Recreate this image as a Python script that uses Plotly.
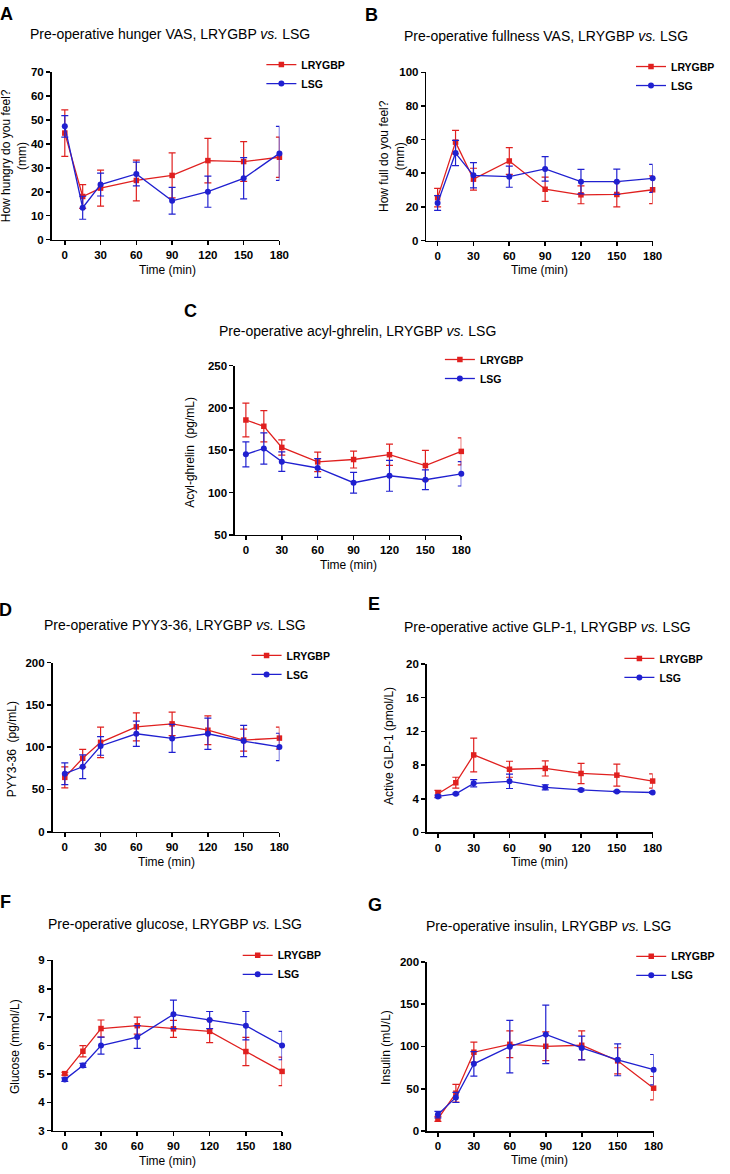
import plotly.graph_objects as go

W, H = 730, 1174
RED = "#e0201f"
BLUE = "#2020d0"
FONT = "Liberation Sans"

time = [0, 15, 30, 60, 90, 120, 150, 180]
x_ticks = [0, 30, 60, 90, 120, 150, 180]
groups = ["LRYGBP", "LSG"]

# A: hunger VAS (mm)
hunger_lrygbp = [44.5, 18.0, 21.5, 24.7, 26.8, 33.0, 32.6, 34.4]
hunger_lrygbp_err = [9.7, 5.0, 7.5, 8.5, 9.4, 9.3, 8.3, 8.4]
hunger_lsg = [47.3, 13.3, 23.0, 27.4, 16.2, 20.0, 25.6, 36.0]
hunger_lsg_err = [4.5, 4.8, 4.8, 5.0, 5.6, 6.5, 8.6, 11.3]

# B: fullness VAS (mm)
fullness_lrygbp = [25.5, 58.5, 36.5, 47.3, 30.5, 27.2, 27.4, 30.2]
fullness_lrygbp_err = [5.5, 7.0, 6.5, 8.0, 7.2, 5.3, 7.4, 8.2]
fullness_lsg = [22.3, 52.0, 38.8, 38.0, 42.6, 35.0, 35.0, 37.0]
fullness_lsg_err = [4.4, 7.5, 7.5, 6.3, 7.3, 7.3, 7.5, 8.3]

# C: acyl-ghrelin (pg/mL)
ghrelin_lrygbp = [185.7, 178.3, 153.3, 136.2, 139.0, 144.7, 131.9, 148.6]
ghrelin_lrygbp_err = [20.0, 18.5, 9.0, 11.5, 10.0, 12.5, 18.0, 16.0]
ghrelin_lsg = [145.1, 152.1, 136.5, 129.0, 111.6, 119.8, 115.1, 122.1]
ghrelin_lsg_err = [14.7, 18.5, 11.5, 11.0, 12.3, 18.3, 11.7, 14.4]

# D: PYY3-36 (pg/mL)
pyy_lrygbp = [64.3, 86.9, 105.7, 124.0, 127.5, 120.0, 108.4, 110.7]
pyy_lrygbp_err = [12.5, 10.5, 18.0, 16.5, 14.0, 17.0, 13.0, 13.0]
pyy_lsg = [68.6, 76.8, 101.4, 115.8, 110.3, 115.8, 107.2, 100.2]
pyy_lsg_err = [12.8, 14.0, 11.0, 15.0, 16.5, 18.5, 18.5, 16.2]

# E: active GLP-1 (pmol/L)
glp1_lrygbp = [4.6, 5.9, 9.2, 7.5, 7.6, 7.0, 6.8, 6.1]
glp1_lrygbp_err = [0.4, 0.65, 2.0, 0.95, 0.9, 1.2, 1.3, 0.85]
glp1_lsg = [4.27, 4.58, 5.83, 6.07, 5.36, 5.05, 4.85, 4.74]
glp1_lsg_err = [0.15, 0.1, 0.43, 0.85, 0.3, 0.12, 0.1, 0.1]

# F: glucose (mmol/L)
glucose_lrygbp = [5.01, 5.8, 6.6, 6.7, 6.59, 6.5, 5.79, 5.09]
glucose_lrygbp_err = [0.05, 0.2, 0.3, 0.3, 0.3, 0.4, 0.5, 0.5]
glucose_lsg = [4.8, 5.3, 6.0, 6.3, 7.1, 6.9, 6.7, 6.0]
glucose_lsg_err = [0.06, 0.07, 0.3, 0.4, 0.5, 0.3, 0.5, 0.5]

# G: insulin (mU/L)
insulin_lrygbp = [14.4, 44.8, 93.2, 102.5, 100.2, 101.4, 83.0, 50.7]
insulin_lrygbp_err = [3.0, 10.5, 12.0, 15.8, 17.0, 17.0, 15.5, 13.8]
insulin_lsg = [19.5, 39.8, 79.5, 99.8, 114.2, 98.2, 84.2, 72.5]
insulin_lsg_err = [3.9, 6.0, 14.5, 31.0, 34.6, 14.0, 18.8, 18.0]

panels = [
    dict(letter="A", title="Pre-operative hunger VAS, LRYGBP <i>vs.</i> LSG",
         ytitle="How hungry do you feel?<br>(mm)",
         series=[(hunger_lrygbp, hunger_lrygbp_err), (hunger_lsg, hunger_lsg_err)],
         yrange=[0, 70], yticks=[0, 10, 20, 30, 40, 50, 60, 70],
         px=(52.3, 283.3, 66.7, 236), x0=65.7,
         letter_pos=(7, 8), title_pos=(172, 28), ytitle_pos=(15, 151), xtitle_pos=(170, 267),
         legend_pos=(302, 60), legend_right=False),
    dict(letter="B", title="Pre-operative fullness VAS, LRYGBP <i>vs.</i> LSG",
         ytitle="How full do you feel?<br>(mm)",
         series=[(fullness_lrygbp, fullness_lrygbp_err), (fullness_lsg, fullness_lsg_err)],
         yrange=[0, 100], yticks=[0, 20, 40, 60, 80, 100],
         px=(432.3, 661.7, 67, 237), x0=443.7,
         letter_pos=(377, 9), title_pos=(554, 30), ytitle_pos=(398, 152), xtitle_pos=(547, 267),
         legend_pos=(683, 62), legend_right=True),
    dict(letter="C", title="Pre-operative acyl-ghrelin, LRYGBP <i>vs.</i> LSG",
         ytitle="Acyl-ghrelin  (pg/mL)",
         series=[(ghrelin_lrygbp, ghrelin_lrygbp_err), (ghrelin_lsg, ghrelin_lsg_err)],
         yrange=[50, 250], yticks=[50, 100, 150, 200, 250],
         px=(238.3, 467.7, 363.3, 534.3), x0=249.3,
         letter_pos=(193, 308), title_pos=(362, 328), ytitle_pos=(193, 451), xtitle_pos=(353, 565),
         legend_pos=(483, 358), legend_right=False),
    dict(letter="D", title="Pre-operative PYY3-36, LRYGBP <i>vs.</i> LSG",
         ytitle="PYY3-36  (pg/mL)",
         series=[(pyy_lrygbp, pyy_lrygbp_err), (pyy_lsg, pyy_lsg_err)],
         yrange=[0, 200], yticks=[0, 50, 100, 150, 200],
         px=(53.3, 283.3, 663.3, 834.3), x0=65.7,
         letter_pos=(6, 610), title_pos=(177, 625), ytitle_pos=(12, 751), xtitle_pos=(169, 865),
         legend_pos=(287, 657), legend_right=False),
    dict(letter="E", title="Pre-operative active GLP-1, LRYGBP <i>vs.</i> LSG",
         ytitle="Active GLP-1 (pmol/L)",
         series=[(glp1_lrygbp, glp1_lrygbp_err), (glp1_lsg, glp1_lsg_err)],
         yrange=[0, 20], yticks=[0, 4, 8, 12, 16, 20],
         px=(432.7, 661.7, 664.7, 835), x0=444,
         letter_pos=(379, 604), title_pos=(555, 627), ytitle_pos=(395, 748), xtitle_pos=(547, 865),
         legend_pos=(665, 660), legend_right=False),
    dict(letter="F", title="Pre-operative glucose, LRYGBP <i>vs.</i> LSG",
         ytitle="Glucose (mmol/L)",
         series=[(glucose_lrygbp, glucose_lrygbp_err), (glucose_lsg, glucose_lsg_err)],
         yrange=[3, 9], yticks=[3, 4, 5, 6, 7, 8, 9],
         px=(53.3, 286, 964.3, 1136.3), x0=65.7,
         letter_pos=(6, 905), title_pos=(177, 927), ytitle_pos=(15, 1051), xtitle_pos=(170, 1167),
         legend_pos=(278, 960), legend_right=False),
    dict(letter="G", title="Pre-operative insulin, LRYGBP <i>vs.</i> LSG",
         ytitle="Insulin (mU/L)",
         series=[(insulin_lrygbp, insulin_lrygbp_err), (insulin_lsg, insulin_lsg_err)],
         yrange=[0, 200], yticks=[0, 50, 100, 150, 200],
         px=(433, 662.7, 965.7, 1136.7), x0=444,
         letter_pos=(380, 908), title_pos=(556, 929), ytitle_pos=(392, 1052), xtitle_pos=(547, 1166),
         legend_pos=(677, 961), legend_right=False),
]

styles = [
    dict(color=RED, symbol="square", size=5.5),
    dict(color=BLUE, symbol="circle", size=6),
]

fig = go.Figure()
layout = dict(
    width=W, height=H, margin=dict(l=0, r=0, t=0, b=0),
    paper_bgcolor="white", plot_bgcolor="white",
    font=dict(family=FONT, color="black"),
    annotations=[],
)

tick_font = dict(family=FONT, size=11.5, color="black", weight="bold")

for i, p in enumerate(panels, start=1):
    xl, xr, yt, yb = p["px"]
    ppu = (xr - p["x0"]) / 180.0
    xmin = -(p["x0"] - xl) / ppu
    xname = "xaxis" if i == 1 else f"xaxis{i}"
    yname = "yaxis" if i == 1 else f"yaxis{i}"
    xid = "x" if i == 1 else f"x{i}"
    yid = "y" if i == 1 else f"y{i}"
    legname = "legend" if i == 1 else f"legend{i}"

    layout[xname] = dict(
        domain=[xl / W, xr / W], range=[xmin, 180], anchor=yid,
        tickmode="array", tickvals=x_ticks, ticktext=[str(t) for t in x_ticks],
        showline=True, linecolor="black", linewidth=1.6,
        ticks="outside", ticklen=4, tickwidth=1.6, tickcolor="black",
        showgrid=False, zeroline=False, tickfont=tick_font, fixedrange=True,
    )
    layout[yname] = dict(
        domain=[1 - yb / H, 1 - yt / H], range=p["yrange"], anchor=xid,
        tickmode="array", tickvals=p["yticks"], ticktext=[str(t) for t in p["yticks"]],
        showline=True, linecolor="black", linewidth=1.6,
        ticks="outside", ticklen=4, tickwidth=1.6, tickcolor="black",
        showgrid=False, zeroline=False, tickfont=tick_font, fixedrange=True,
    )
    tx, ty = p["legend_pos"]
    if p["legend_right"]:
        lx_, xanc = 1.0, "right"
    else:
        lx_, xanc = (tx - 37) / W, "left"
    layout[legname] = dict(
        x=lx_, y=1 - (ty - 15.5) / H, xanchor=xanc, yanchor="top",
        bgcolor="rgba(0,0,0,0)", borderwidth=0,
        font=dict(family=FONT, size=10.5, color="black", weight="bold"),
        itemclick=False, itemdoubleclick=False, tracegroupgap=0,
    )

    for (vals, errs), st, name in zip(p["series"], styles, groups):
        fig.add_trace(go.Scatter(
            x=time, y=vals, name=name, xaxis=xid, yaxis=yid, legend=legname,
            mode="lines+markers", cliponaxis=False,
            line=dict(color=st["color"], width=1.3),
            marker=dict(symbol=st["symbol"], size=st["size"], color=st["color"]),
            error_y=dict(type="data", array=errs, visible=True, color=st["color"],
                         thickness=1.2, width=3.5),
        ))

    lx, ly = p["letter_pos"]
    layout["annotations"].append(dict(
        text=f"<b>{p['letter']}</b>", x=lx / W, y=1 - ly / H, xref="paper", yref="paper",
        showarrow=False, xanchor="center", yanchor="middle",
        font=dict(family=FONT, size=18, color="black")))
    tx2, ty2 = p["title_pos"]
    layout["annotations"].append(dict(
        text=p["title"], x=tx2 / W, y=1 - ty2 / H, xref="paper", yref="paper",
        showarrow=False, xanchor="center", yanchor="middle",
        font=dict(family=FONT, size=14, color="black")))
    yx, yy = p["ytitle_pos"]
    layout["annotations"].append(dict(
        text=p["ytitle"], x=yx / W, y=1 - yy / H, xref="paper", yref="paper",
        showarrow=False, xanchor="center", yanchor="middle", textangle=-90,
        font=dict(family=FONT, size=12, color="black")))
    xx, xy = p["xtitle_pos"]
    layout["annotations"].append(dict(
        text="Time (min)", x=xx / W, y=1 - xy / H, xref="paper", yref="paper",
        showarrow=False, xanchor="center", yanchor="middle",
        font=dict(family=FONT, size=12, color="black")))

fig.update_layout(**layout)
fig.write_html(
    "out.html",
    config={"displayModeBar": False, "staticPlot": True},
    post_script="document.body.style.margin='0';document.body.style.overflow='hidden';",
)
